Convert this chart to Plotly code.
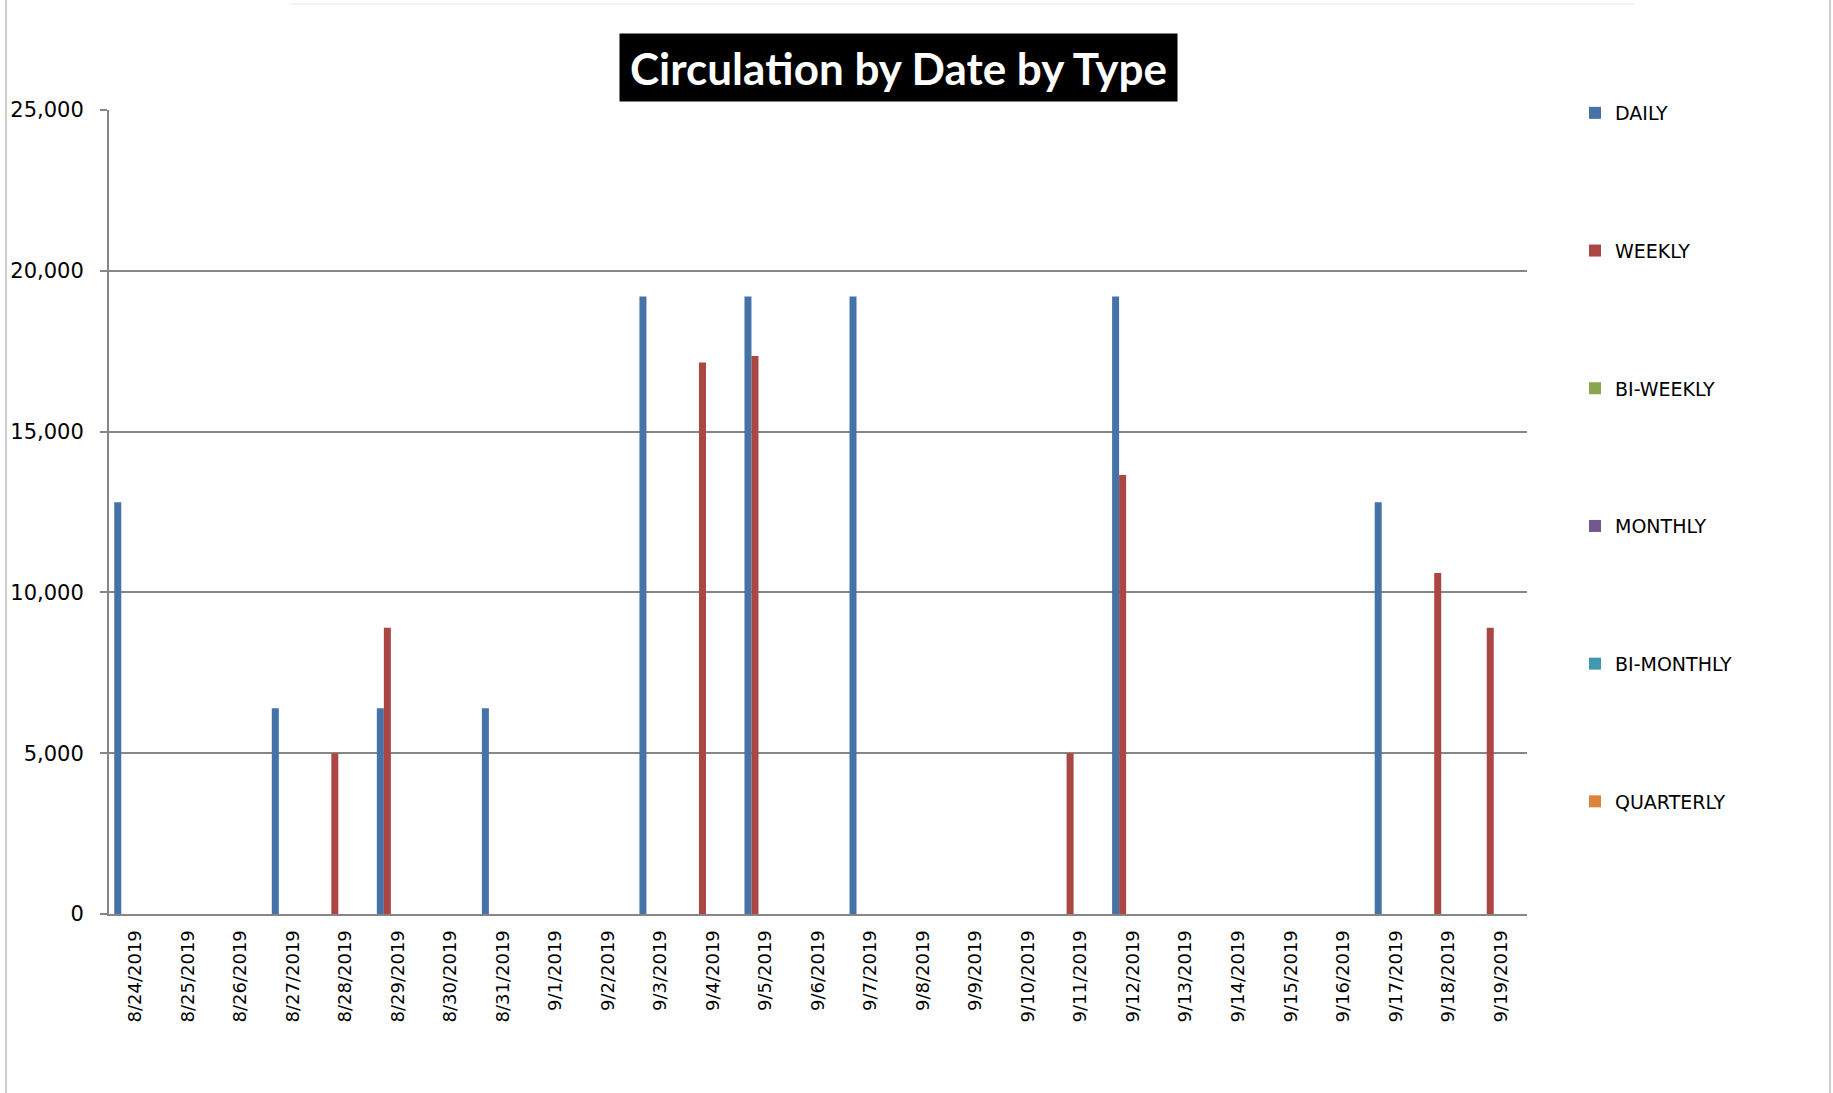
import plotly.graph_objects as go

dates = ["8/24/2019", "8/25/2019", "8/26/2019", "8/27/2019", "8/28/2019", "8/29/2019",
         "8/30/2019", "8/31/2019", "9/1/2019", "9/2/2019", "9/3/2019", "9/4/2019",
         "9/5/2019", "9/6/2019", "9/7/2019", "9/8/2019", "9/9/2019", "9/10/2019",
         "9/11/2019", "9/12/2019", "9/13/2019", "9/14/2019", "9/15/2019", "9/16/2019",
         "9/17/2019", "9/18/2019", "9/19/2019"]

daily = [12800, 0, 0, 6400, 0, 6400, 0, 6400, 0, 0, 19200, 0, 19200, 0, 19200, 0, 0, 0,
         0, 19200, 0, 0, 0, 0, 12800, 0, 0]
weekly = [0, 0, 0, 0, 5000, 8900, 0, 0, 0, 0, 0, 17150, 17350, 0, 0, 0, 0, 0,
          5000, 13650, 0, 0, 0, 0, 0, 10600, 8900]
bi_weekly = [0] * 27
monthly = [0] * 27
bi_monthly = [0] * 27
quarterly = [0] * 27

series_names = ["DAILY", "WEEKLY", "BI-WEEKLY", "MONTHLY", "BI-MONTHLY", "QUARTERLY"]
series_values = [daily, weekly, bi_weekly, monthly, bi_monthly, quarterly]
colors = ["#4572A7", "#AA4643", "#89A54E", "#71588F", "#4198AF", "#DB843D"]

W, H = 1833, 1093
L, R, T, B = 109, 306, 110, 179
pw, ph = W - L - R, H - T - B


def px_x(x):
    return (x - L) / pw


def px_y(y):
    return (H - B - y) / ph


fig = go.Figure()
for name, vals, col in zip(series_names, series_values, colors):
    fig.add_trace(go.Bar(x=dates, y=vals, name=name, legendgroup=name,
                         marker=dict(color=col, line=dict(width=0))))

grid = "#868686"
fig.update_layout(
    width=W, height=H,
    margin=dict(l=L, r=R, t=T, b=B, autoexpand=False),
    paper_bgcolor="white", plot_bgcolor="white",
    barmode="group", bargap=0.2, bargroupgap=0,
    font=dict(family="DejaVu Sans", color="black"),
    xaxis=dict(type="category", tickangle=-90, showline=True, linecolor=grid, linewidth=2,
               showgrid=False, ticks="", tickfont=dict(size=18, family="DejaVu Sans"),
               ticklabelstandoff=7),
    yaxis=dict(range=[0, 25000], tickvals=[0, 5000, 10000, 15000, 20000, 25000],
               tickformat=",", showgrid=True, gridcolor=grid, gridwidth=1.5,
               showline=True, linecolor=grid, linewidth=2, ticks="outside", ticklen=7,
               tickcolor=grid, tickwidth=1.5, tickfont=dict(size=21, family="DejaVu Sans"),
               ticklabelstandoff=12, zeroline=False),
    legend=dict(xref="container", yref="container", x=1575 / W, y=1 - 94 / H,
                xanchor="left", yanchor="top", maxheight=1,
                traceorder="grouped", tracegroupgap=110,
                font=dict(size=19, family="DejaVu Sans"), itemwidth=30,
                bgcolor="rgba(0,0,0,0)"),
    showlegend=True,
)

fig.add_annotation(text="<b>Circula\u200ction by Date by Type</b>", xref="paper", yref="paper",
                   x=px_x(898), y=px_y(68), xanchor="center", yanchor="middle",
                   showarrow=False, bgcolor="black", borderpad=6, width=545, height=55,
                   font=dict(family="Lato", size=44, color="white"))

fig.add_shape(type="line", xref="paper", yref="paper", x0=px_x(6), x1=px_x(6),
              y0=px_y(0), y1=px_y(H), line=dict(color="#BFBFBF", width=1.5))
fig.add_shape(type="line", xref="paper", yref="paper", x0=px_x(1830), x1=px_x(1830),
              y0=px_y(0), y1=px_y(H), line=dict(color="#BFBFBF", width=1.5))
fig.add_shape(type="line", xref="paper", yref="paper", x0=px_x(290), x1=px_x(1634),
              y0=px_y(4), y1=px_y(4), line=dict(color="#E6E6E6", width=1))

fig.write_html("out.html", config={"displayModeBar": False},
               post_script="document.body.style.margin='0';")
